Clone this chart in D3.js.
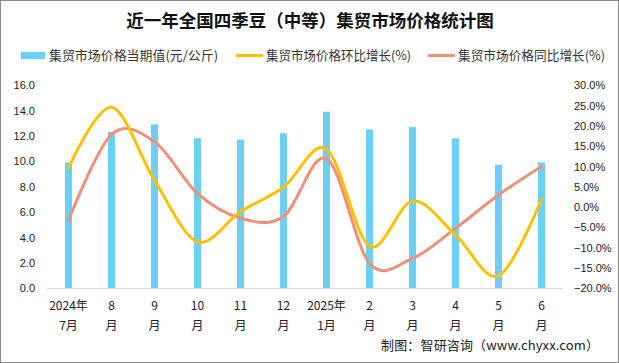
<!DOCTYPE html>
<html>
<head>
<meta charset="utf-8">
<script src="https://cdn.jsdelivr.net/npm/d3@7"></script>
<style>
body { margin: 0; background: #fff; }
svg { display: block; font-family: "Noto Sans CJK SC", "Liberation Sans", sans-serif; }
</style>
</head>
<body>
<div id="chart"></div>
<script>
// Data
var months_top = ['2024年', '8', '9', '10', '11', '12', '2025年', '2', '3', '4', '5', '6'];
var months_bottom = ['7月', '月', '月', '月', '月', '月', '1月', '月', '月', '月', '月', '月'];
var price = [9.9, 12.3, 12.9, 11.8, 11.7, 12.2, 13.9, 12.5, 12.7, 11.8, 9.7, 9.9];
var mom = [9.6, 24.5, 6.5, -8.6, -1.2, 4.8, 14.2, -9.7, 1.4, -6.9, -17.0, 1.8];
var yoy = [-3.3, 17.8, 16.0, 3.3, -2.8, -2.4, 11.9, -13.9, -12.7, -5.3, 2.9, 9.9];
var left_ticks = [0, 2, 4, 6, 8, 10, 12, 14, 16];
var right_ticks = [-20, -15, -10, -5, 0, 5, 10, 15, 20, 25, 30];
var legend_names = ['集贸市场价格当期值(元/公斤)', '集贸市场价格环比增长(%)', '集贸市场价格同比增长(%)'];

var width = 619, height = 363;
var plot = { left: 47, right: 563, top: 85, bottom: 288 };
var bar_color = '#6DCFF6', mom_color = '#FFC000', yoy_color = '#EE9179';

var svg = d3.select('#chart')
	.append('svg')
	.attr('width', width)
	.attr('height', height);

// frame
svg.append('rect')
	.attr('x', 0.5).attr('y', 0.5)
	.attr('width', width - 1).attr('height', height - 1)
	.attr('fill', 'none').attr('stroke', '#8c8c8c');

// title
svg.append('text')
	.attr('x', 310).attr('y', 27)
	.attr('text-anchor', 'middle')
	.attr('font-size', 17.5).attr('font-weight', 'bold')
	.attr('fill', '#111')
	.text('近一年全国四季豆（中等）集贸市场价格统计图');

// scales
var x = d3.scaleBand().domain(d3.range(price.length)).range([plot.left, plot.right]);
var y_left = d3.scaleLinear().domain([0, 16]).range([plot.bottom, plot.top]);
var y_right = d3.scaleLinear().domain([-20, 30]).range([plot.bottom, plot.top]);

// left axis
var left_axis = svg.append('g')
	.attr('transform', 'translate(35,0)')
	.call(d3.axisLeft(y_left).tickValues(left_ticks).tickFormat(d3.format('.1f')).tickSize(0));
left_axis.select('.domain').remove();
left_axis.selectAll('text').attr('font-size', 11).attr('fill', '#222').attr('x', 0).attr('dy', '0.35em');

// right axis
var right_axis = svg.append('g')
	.attr('transform', 'translate(574,0)')
	.call(d3.axisRight(y_right).tickValues(right_ticks).tickFormat(function(d){ return d3.format('.1f')(d) + '%'; }).tickSize(0));
right_axis.select('.domain').remove();
right_axis.selectAll('text').attr('font-size', 11).attr('fill', '#222').attr('x', 0).attr('dy', '0.35em');

// bars
svg.selectAll('rect.bar')
	.data(price)
	.enter()
	.append('rect')
	.attr('class', 'bar')
	.attr('fill', bar_color)
	.attr('x', function(d, i){ return x(i) + x.bandwidth() / 2 - 3.5; })
	.attr('width', 7)
	.attr('y', function(d){ return y_left(d); })
	.attr('height', function(d){ return y_left(0) - y_left(d); });

// baseline
svg.append('line')
	.attr('x1', plot.left).attr('x2', plot.right)
	.attr('y1', plot.bottom + 0.5).attr('y2', plot.bottom + 0.5)
	.attr('stroke', '#d9d9d9');

// x labels
var xl = svg.append('g').selectAll('text')
	.data(months_top)
	.enter()
	.append('text')
	.attr('text-anchor', 'middle')
	.attr('font-size', 12)
	.attr('fill', '#222');
xl.append('tspan')
	.attr('x', function(d, i){ return x(i) + x.bandwidth() / 2; })
	.attr('y', 310)
	.text(function(d){ return d; });
xl.append('tspan')
	.attr('x', function(d, i){ return x(i) + x.bandwidth() / 2; })
	.attr('y', 330)
	.text(function(d, i){ return months_bottom[i]; });

// lines
function draw_line(values, color) {
	var line = d3.line()
		.x(function(d, i){ return x(i) + x.bandwidth() / 2; })
		.y(function(d){ return y_right(d); })
		.curve(d3.curveCatmullRom.alpha(0));
	svg.append('path')
		.datum(values)
		.attr('d', line)
		.attr('fill', 'none')
		.attr('stroke', color)
		.attr('stroke-width', 3)
		.attr('stroke-linecap', 'round');
}
draw_line(yoy, yoy_color);
draw_line(mom, mom_color);

// legend
var legend_x = [21, 236, 428];
var legend_text_w = [169, 145, 147];
var legend_colors = [bar_color, mom_color, yoy_color];
legend_names.forEach(function(name, i){
	if (i === 0) {
		svg.append('rect').attr('x', legend_x[i]).attr('y', 52).attr('width', 24).attr('height', 7).attr('fill', legend_colors[i]);
	} else {
		svg.append('line').attr('x1', legend_x[i]).attr('x2', legend_x[i] + 27)
			.attr('y1', 55.5).attr('y2', 55.5)
			.attr('stroke', legend_colors[i]).attr('stroke-width', 3);
	}
	svg.append('text')
		.attr('x', legend_x[i] + (i === 0 ? 28 : 30)).attr('y', 60)
		.attr('font-size', 12.6).attr('fill', '#333')
		.attr('textLength', legend_text_w[i]).attr('lengthAdjust', 'spacingAndGlyphs')
		.text(name);
});

// source
svg.append('text')
	.attr('x', 381).attr('y', 350)
	.attr('font-size', 13).attr('fill', '#222')
	.attr('textLength', 218).attr('lengthAdjust', 'spacing')
	.text('制图：智研咨询（www.chyxx.com）');
</script>
</body>
</html>
